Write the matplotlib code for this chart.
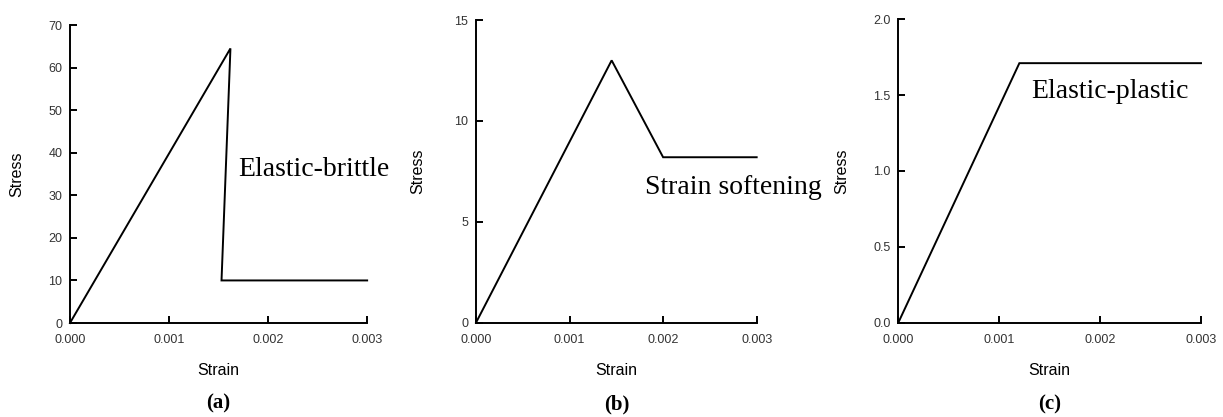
import numpy as np
import matplotlib.pyplot as plt

plt.rcParams['font.family'] = ['Liberation Sans', 'DejaVu Sans']

# stress-strain curves for the three material models
brittle_strain = [0.0, 0.00162, 0.00153, 0.003]
brittle_stress = [0.0, 64.5, 10.0, 10.0]

soft_strain = [0.0, 0.00145, 0.002, 0.003]
soft_stress = [0.0, 13.0, 8.2, 8.2]

plastic_strain = [0.0, 0.0012, 0.003]
plastic_stress = [0.0, 1.71, 1.71]

x_ticks = [0.0, 0.001, 0.002, 0.003]
x_ticklabels = ['0.000', '0.001', '0.002', '0.003']

fig = plt.figure(figsize=(12.23, 4.17), dpi=100)

ax_a = fig.add_axes([0.0572, 0.2254, 0.2430, 0.7146])
ax_b = fig.add_axes([0.3892, 0.2261, 0.2295, 0.7259])
ax_c = fig.add_axes([0.7345, 0.2261, 0.2475, 0.7280])

panels = [
    (ax_a, brittle_strain, brittle_stress, [0, 10, 20, 30, 40, 50, 60, 70], 70,
     'Elastic-brittle', (0.0017, 36.0), '(a)', -0.178),
    (ax_b, soft_strain, soft_stress, [0, 5, 10, 15], 15,
     'Strain softening', (0.00181, 6.72), '(b)', -0.207),
    (ax_c, plastic_strain, plastic_stress, [0.0, 0.5, 1.0, 1.5, 2.0], 2.0,
     'Elastic-plastic', (0.00132, 1.52), '(c)', -0.186),
]

for ax, xs, ys, yt, ymax, name, pos, tag, ylab_x in panels:
    ax.plot(xs, ys, color='black', lw=1.4, solid_joinstyle='miter', clip_on=False)
    ax.set_xlim(0, 0.003)
    ax.set_ylim(0, ymax)
    ax.set_xticks(x_ticks)
    ax.set_xticklabels(x_ticklabels)
    ax.set_yticks(yt)
    if ymax == 2.0:
        ax.set_yticklabels(['%.1f' % v for v in yt])
    ax.spines['top'].set_visible(False)
    ax.spines['right'].set_visible(False)
    for s in ['left', 'bottom']:
        ax.spines[s].set_linewidth(1.4)
    ax.tick_params(direction='in', length=5, width=1.4, labelsize=9,
                   colors='black', labelcolor='#333333')
    ax.tick_params(axis='x', pad=8)
    ax.tick_params(axis='y', pad=5.5)
    ax.set_xlabel('Strain', fontsize=11.5, va='center')
    ax.set_ylabel('Stress', fontsize=11.5, va='center')
    ax.xaxis.set_label_coords(0.5, -0.158)
    ax.yaxis.set_label_coords(ylab_x, 0.5)
    ax.text(pos[0], pos[1], name, family='Liberation Serif', fontsize=20,
            ha='left', va='center')
    ax.text(0.5, -0.27, tag, transform=ax.transAxes, family='Liberation Serif',
            fontsize=15, fontweight='bold', ha='center', va='center')

fig.savefig('out.png', dpi=100, facecolor='white')
